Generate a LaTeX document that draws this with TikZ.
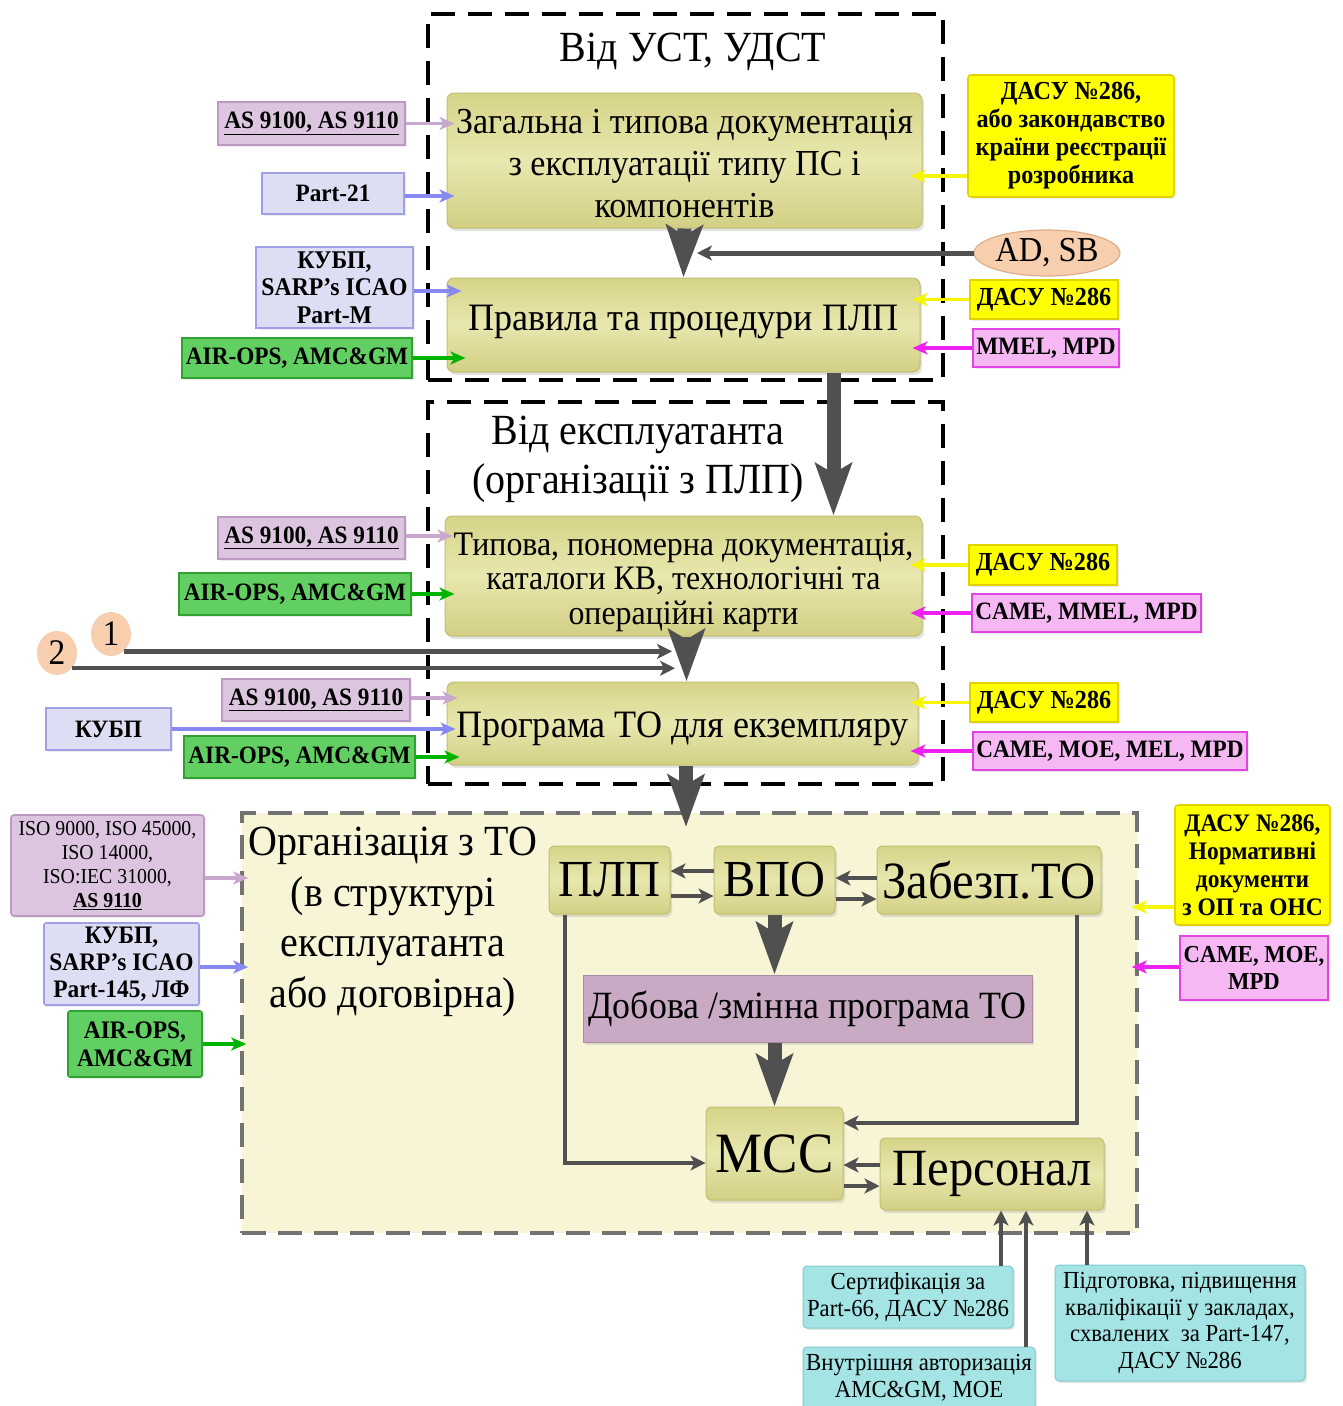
\documentclass[tikz,border=0pt]{standalone}
\usepackage{fontspec}
\setmainfont{Liberation Serif}[FakeStretch=0.93]
\usetikzlibrary{arrows.meta,shapes.geometric,shadows}

\definecolor{boxtop}{HTML}{D6D488}
\definecolor{boxmid}{HTML}{E8E7AE}
\definecolor{boxbot}{HTML}{D2CF84}
\definecolor{boxedge}{HTML}{C2BF72}
\definecolor{purfill}{HTML}{DCC6DF}
\definecolor{purline}{HTML}{BC98C2}
\definecolor{purarr}{HTML}{C8A8CF}
\definecolor{bluefill}{HTML}{DDDDF3}
\definecolor{blueline}{HTML}{A0A0E6}
\definecolor{bluearr}{HTML}{8888F2}
\definecolor{grnfill}{HTML}{62CF62}
\definecolor{grnline}{HTML}{2FA22F}
\definecolor{grnarr}{HTML}{00B400}
\definecolor{yelfill}{HTML}{FFFF00}
\definecolor{yelline}{HTML}{E2D200}
\definecolor{yelarr}{HTML}{F6F600}
\definecolor{pinkfill}{HTML}{F5B8F2}
\definecolor{pinkline}{HTML}{E244E2}
\definecolor{pinkarr}{HTML}{F020F0}
\definecolor{tealfill}{HTML}{A4E4E4}
\definecolor{tealline}{HTML}{80CCCC}
\definecolor{peach}{HTML}{F8CFAE}
\definecolor{peachline}{HTML}{DDAE88}
\definecolor{orgfill}{HTML}{F7F5D6}
\definecolor{orgline}{HTML}{727272}
\definecolor{dayfill}{HTML}{C9AAC4}
\definecolor{dayline}{HTML}{A98CA4}
\definecolor{flow}{HTML}{505050}

% move a block of text down without changing the size it reports
\newcommand\lowertext[2]{\raisebox{#1}[\height][\depth]{#2}}

\begin{document}
\begin{tikzpicture}[x=1pt,y=-1pt,
  every node/.style={inner sep=0pt, align=center},
  mainbox/.style={rounded corners=7pt, draw=boxedge, line width=1pt,
    top color=boxtop, bottom color=boxbot, middle color=boxmid,
    drop shadow={opacity=0.22, shadow xshift=2pt, shadow yshift=-3pt}},
  unit/.style={mainbox, rounded corners=5pt},
  frame/.style={draw=black, line width=4pt, dash pattern=on 24pt off 13pt},
  title/.style={font=\fontsize{43}{49}\selectfont},
  lab/.style={line width=1.6pt, font=\bfseries\fontsize{25}{27.5}\selectfont,
    drop shadow={opacity=0.15, shadow xshift=1.5pt, shadow yshift=-2pt}},
  lpur/.style={lab, fill=purfill, draw=purline},
  lblue/.style={lab, fill=bluefill, draw=blueline},
  lgrn/.style={lab, fill=grnfill, draw=grnline},
  lyel/.style={lab, fill=yelfill, draw=yelline, rounded corners=3pt},
  dasu/.style={lab, fill=yelfill, draw=yelline, font=\bfseries\fontsize{26}{28}\selectfont},
  lpink/.style={lab, fill=pinkfill, draw=pinkline},
  lteal/.style={fill=tealfill, draw=tealline, line width=1pt, rounded corners=4pt,
    font=\fontsize{24.5}{26.5}\selectfont,
    drop shadow={opacity=0.2, shadow xshift=2pt, shadow yshift=-2pt}},
  num/.style={ellipse, fill=peach, minimum width=40pt, minimum height=44pt,
    font=\fontsize{36}{36}\selectfont},
  carr/.style={line width=3.6pt, -{Stealth[length=15pt,width=13pt,inset=4pt]}},
  apur/.style={carr, draw=purarr},
  ablue/.style={carr, draw=bluearr},
  agrn/.style={carr, draw=grnarr},
  ayel/.style={carr, draw=yelarr},
  apink/.style={carr, draw=pinkarr},
  thin/.style={line width=4.5pt, draw=flow, -{Stealth[length=15pt,width=15pt,inset=4pt]}},
  big/.style={line width=14pt, draw=flow, -{Stealth[length=52pt,width=36pt,inset=10pt]}}
]
\useasboundingbox (0,0) rectangle (1343,1406);

% ---------- maintenance organisation region (background) ----------
\node[fill=orgfill, draw=orgline, line width=3.5pt, dash pattern=on 24pt off 12pt,
  minimum width=895pt, minimum height=420pt] (org) at (689.5,1023) {};

% ---------- upper group: type-certificate holder ----------
\node[frame, minimum width=515pt, minimum height=366pt] (grp1) at (685.5,197) {};
\node[title] (t1) at (693,52) {Від УСТ, УДСТ};
\node[mainbox, minimum width=475pt, minimum height=135pt,
  font=\fontsize{36.6}{42}\selectfont] (b1) at (684.5,160.5)
  {\lowertext{-3pt}{\parbox{470pt}{\centering Загальна і типова документація\\з експлуатації типу ПС і\\компонентів}}};
\node[mainbox, minimum width=473pt, minimum height=94pt,
  font=\fontsize{38.8}{42}\selectfont] (b2) at (683.5,325)
  {\lowertext{3pt}{Правила та процедури ПЛП}};

\node[lpur, minimum width=187pt, minimum height=43pt] (l1) at (311.5,123.5)
  {\underline{AS 9100, AS 9110}};
\node[lblue, minimum width=142pt, minimum height=41pt] (l2) at (333,193.5) {Part-21};
\node[lblue, minimum width=157pt, minimum height=81pt,
  font=\bfseries\fontsize{25.5}{27.5}\selectfont] (l3) at (334.5,287.5)
  {КУБП,\\SARP’s ICAO\\Part-M};
\node[lgrn, minimum width=230pt, minimum height=40pt] (l4) at (297,358) {AIR-OPS, AMC\&GM};

\node[lyel, minimum width=206pt, minimum height=122pt,
  font=\bfseries\fontsize{26}{28}\selectfont] (r1) at (1071,136)
  {ДАСУ №286,\\або закондавство\\країни реєстрації\\розробника};
\node[dasu, minimum width=148pt, minimum height=39pt] (r2) at (1044,299.5) {ДАСУ №286};
\node[lpink, minimum width=146pt, minimum height=38pt] (r3) at (1046,348) {MMEL, MPD};
\node[ellipse, fill=peach, draw=peachline, line width=1.2pt,
  minimum width=125pt, minimum height=46pt,
  font=\fontsize{35}{35}\selectfont] (adsb) at (1047,253) {AD, SB};

% ---------- middle group: operator ----------
\node[frame, minimum width=515pt, minimum height=382pt] (grp2) at (685.5,593) {};
\node[title] (t2) at (638,459) {Від експлуатанта\\(організації з ПЛП)};
\node[mainbox, minimum width=477pt, minimum height=120pt,
  font=\fontsize{34.3}{34.5}\selectfont] (b3) at (683.5,576)
  {\lowertext{-6pt}{\parbox{470pt}{\centering Типова, пономерна документація,\\каталоги КВ, технологічні та\\операційні карти}}};
\node[mainbox, minimum width=471pt, minimum height=83pt,
  font=\fontsize{38.8}{42}\selectfont] (b4) at (682.5,723.5)
  {\lowertext{-5pt}{Програма ТО для екземпляру}};

\node[lpur, minimum width=187pt, minimum height=42pt] (m1) at (311.5,538) {\underline{AS 9100, AS 9110}};
\node[lgrn, minimum width=232pt, minimum height=42pt] (m2) at (295,594) {AIR-OPS, AMC\&GM};
\node[lpur, minimum width=188pt, minimum height=42pt] (m3) at (316,700) {\underline{AS 9100, AS 9110}};
\node[lblue, minimum width=125pt, minimum height=42pt] (m4) at (108.5,729) {КУБП};
\node[lgrn, minimum width=231pt, minimum height=42pt] (m5) at (299.5,757) {AIR-OPS, AMC\&GM};

\node[dasu, minimum width=148pt, minimum height=40pt] (n1) at (1043,565) {ДАСУ №286};
\node[lpink, minimum width=229pt, minimum height=38pt] (n2) at (1086.5,613) {CAME, MMEL, MPD};
\node[dasu, minimum width=148pt, minimum height=39pt] (n3) at (1044,702.5) {ДАСУ №286};
\node[lpink, minimum width=274pt, minimum height=38pt] (n4) at (1110,751) {CAME, MOE, MEL, MPD};

\node[num] (c1) at (111,634) {1};
\node[num] (c2) at (57,653) {2};

% ---------- maintenance organisation contents ----------
\node[font=\fontsize{43}{50.5}\selectfont] (t3) at (393,922)
  {Організація з ТО\\(в структурі\\експлуатанта\\або договірна)};
\node[unit, minimum width=121pt, minimum height=68pt, font=\fontsize{52}{52}\selectfont] (p1) at (609.5,880) {ПЛП};
\node[unit, minimum width=121pt, minimum height=68pt, font=\fontsize{52}{52}\selectfont] (p2) at (774.5,880) {ВПО};
\node[unit, minimum width=224pt, minimum height=68pt, font=\fontsize{52.3}{52}\selectfont] (p3) at (989,880) {Забезп.ТО};
\node[fill=dayfill, draw=dayline, line width=1pt, minimum width=449pt, minimum height=67pt,
  font=\fontsize{38.6}{38}\selectfont,
  drop shadow={opacity=0.2, shadow xshift=2pt, shadow yshift=-3pt}] (p4) at (807.5,1008.5)
  {Добова /змінна програма ТО};
\node[unit, minimum width=137pt, minimum height=93pt, font=\fontsize{57}{57}\selectfont] (p5) at (774.5,1153.5) {МСС};
\node[unit, minimum width=224pt, minimum height=72pt, font=\fontsize{52.3}{52}\selectfont] (p6) at (992,1174) {Персонал};

\node[lpur, rounded corners=3pt, minimum width=193pt, minimum height=101pt,
  font=\fontsize{21.3}{24}\selectfont] (q1) at (107.5,865.5)
  {ISO 9000, ISO 45000,\\ISO 14000,\\ISO:IEC 31000,\\\textbf{\underline{AS 9110}}};
\node[lblue, rounded corners=2pt, minimum width=155pt, minimum height=82pt,
  font=\bfseries\fontsize{25.2}{27}\selectfont] (q2) at (121.5,964)
  {КУБП,\\SARP’s ICAO\\Part-145, ЛФ};
\node[lgrn, rounded corners=2pt, minimum width=134pt, minimum height=66pt,
  font=\bfseries\fontsize{25.2}{28}\selectfont] (q3) at (135,1044)
  {AIR-OPS,\\AMC\&GM};

\node[lyel, minimum width=155pt, minimum height=120pt,
  font=\bfseries\fontsize{25.2}{28}\selectfont] (s1) at (1252.5,865)
  {ДАСУ №286,\\Нормативні\\документи\\з ОП та ОНС};
\node[lpink, minimum width=148pt, minimum height=64pt,
  font=\bfseries\fontsize{24.4}{27}\selectfont] (s2) at (1254,968)
  {CAME, MOE,\\MPD};

\node[lteal, minimum width=210pt, minimum height=62pt] (e1) at (908,1297)
  {Сертифікація за\\Part-66, ДАСУ №286};
\node[lteal, minimum width=232pt, minimum height=62pt] (e2) at (919,1378)
  {Внутрішня авторизація\\AMC\&GM, MOE};
\node[lteal, minimum width=250pt, minimum height=116pt] (e3) at (1180,1323)
  {Підготовка, підвищення\\кваліфікації у закладах,\\схвалених\ \ за Part-147,\\ДАСУ №286};

% ---------- main flow ----------
\coordinate (orgin) at (686,827);
\draw[big] (b1.south) -- (b2.north);
\draw[big] ([xshift=150pt]b2.south) -- ([xshift=150pt]b3.north);
\draw[big] ([xshift=3pt]b3.south) -- ([xshift=4pt]b4.north);
\draw[big] ([xshift=3.5pt]b4.south) -- (orgin);
\draw[big] (p2.south) -- (p4.north -| p2.south);
\draw[big] (p4.south -| p5.north) -- (p5.north);

\draw[thin, line width=5pt, shorten >=12.5pt] (adsb.west) -- (adsb.west -| b1.south);
\draw[thin, shorten >=10.5pt] (c1.-54) -- (c1.-54 -| b4.north);
\draw[thin, shorten >=7.5pt] (c2.-46) -- (c2.-46 -| b4.north);

% ---------- inputs: upper group ----------
\draw[apur, shorten >=-8pt] (l1.east) -- (l1.east -| b1.west);
\draw[ablue, shorten >=-8pt] ([yshift=-2.5pt]l2.east) -- ([yshift=-2.5pt]l2.east -| b1.west);
\draw[ablue, shorten >=-15pt] ([yshift=-3.5pt]l3.east) -- ([yshift=-3.5pt]l3.east -| b2.west);
\draw[agrn, shorten >=-19pt] (l4.east) -- (l4.east -| b2.west);
\draw[ayel, shorten >=-12pt] ([yshift=-40pt]r1.west) -- ([yshift=-40pt]r1.west -| b1.east);
\draw[ayel, shorten >=-8pt] (r2.west) -- (r2.west -| b2.east);
\draw[apink, shorten >=-8pt] (r3.west) -- (r3.west -| b2.east);

% ---------- inputs: middle group ----------
\draw[apur, shorten >=-8pt] ([yshift=2pt]m1.east) -- ([yshift=2pt]m1.east -| b3.west);
\draw[agrn, shorten >=-10pt] (m2.east) -- (m2.east -| b3.west);
\draw[apur, shorten >=-11pt] ([yshift=2pt]m3.east) -- ([yshift=2pt]m3.east -| b4.west);
\draw[ablue, shorten >=-9pt] (m4.east) -- (m4.east -| b4.west);
\draw[agrn, shorten >=-13pt] (m5.east) -- (m5.east -| b4.west);
\draw[ayel, shorten >=-12pt] (n1.west) -- (n1.west -| b3.east);
\draw[apink, shorten >=-12pt] (n2.west) -- (n2.west -| b3.east);
\draw[ayel, shorten >=-8pt] (n3.west) -- (n3.west -| b4.east);
\draw[apink, shorten >=-8pt] (n4.west) -- (n4.west -| b4.east);

% ---------- inputs: maintenance organisation ----------
\draw[apur, shorten >=-8pt] ([yshift=-12.5pt]q1.east) -- ([yshift=-12.5pt]q1.east -| org.west);
\draw[ablue, shorten >=-8pt] ([yshift=-3pt]q2.east) -- ([yshift=-3pt]q2.east -| org.west);
\draw[agrn, shorten >=-6pt] (q3.east) -- (q3.east -| org.west);
\draw[ayel, shorten >=-7pt] ([yshift=-42pt]s1.west) -- ([yshift=-42pt]s1.west -| org.east);
\draw[apink, shorten >=-7pt] ([yshift=1pt]s2.west) -- ([yshift=1pt]s2.west -| org.east);

% ---------- links inside the organisation ----------
\draw[thin, line width=4pt] ([yshift=9pt]p2.west) -- ([yshift=9pt]p2.west -| p1.east);
\draw[thin, line width=4pt] ([yshift=-16pt]p1.east) -- ([yshift=-16pt]p1.east -| p2.west);
\draw[thin, line width=4pt] ([yshift=2pt]p3.west) -- ([yshift=2pt]p3.west -| p2.east);
\draw[thin, line width=4pt] ([yshift=-19pt]p2.east) -- ([yshift=-19pt]p2.east -| p3.west);
\draw[thin, line width=4pt] ([yshift=9pt]p6.west) -- ([yshift=9pt]p6.west -| p5.east);
\draw[thin, line width=4pt] ([yshift=-32.5pt]p5.east) -- ([yshift=-32.5pt]p5.east -| p6.west);
\draw[thin, line width=3.5pt] ([xshift=-44.5pt]p1.south) |- ([yshift=-9.5pt]p5.west);
\draw[thin, line width=3.5pt] ([xshift=88pt]p3.south) |- ([yshift=30.5pt]p5.east);

% ---------- personnel qualification ----------
\draw[thin, line width=4pt] ([xshift=93pt]e1.north) -- ([xshift=93pt]e1.north |- p6.south);
\draw[thin, line width=4pt] ([xshift=107pt]e2.north) -- ([xshift=107pt]e2.north |- p6.south);
\draw[thin, line width=4pt] ([xshift=-93pt]e3.north) -- ([xshift=-93pt]e3.north |- p6.south);
\end{tikzpicture}
\end{document}
